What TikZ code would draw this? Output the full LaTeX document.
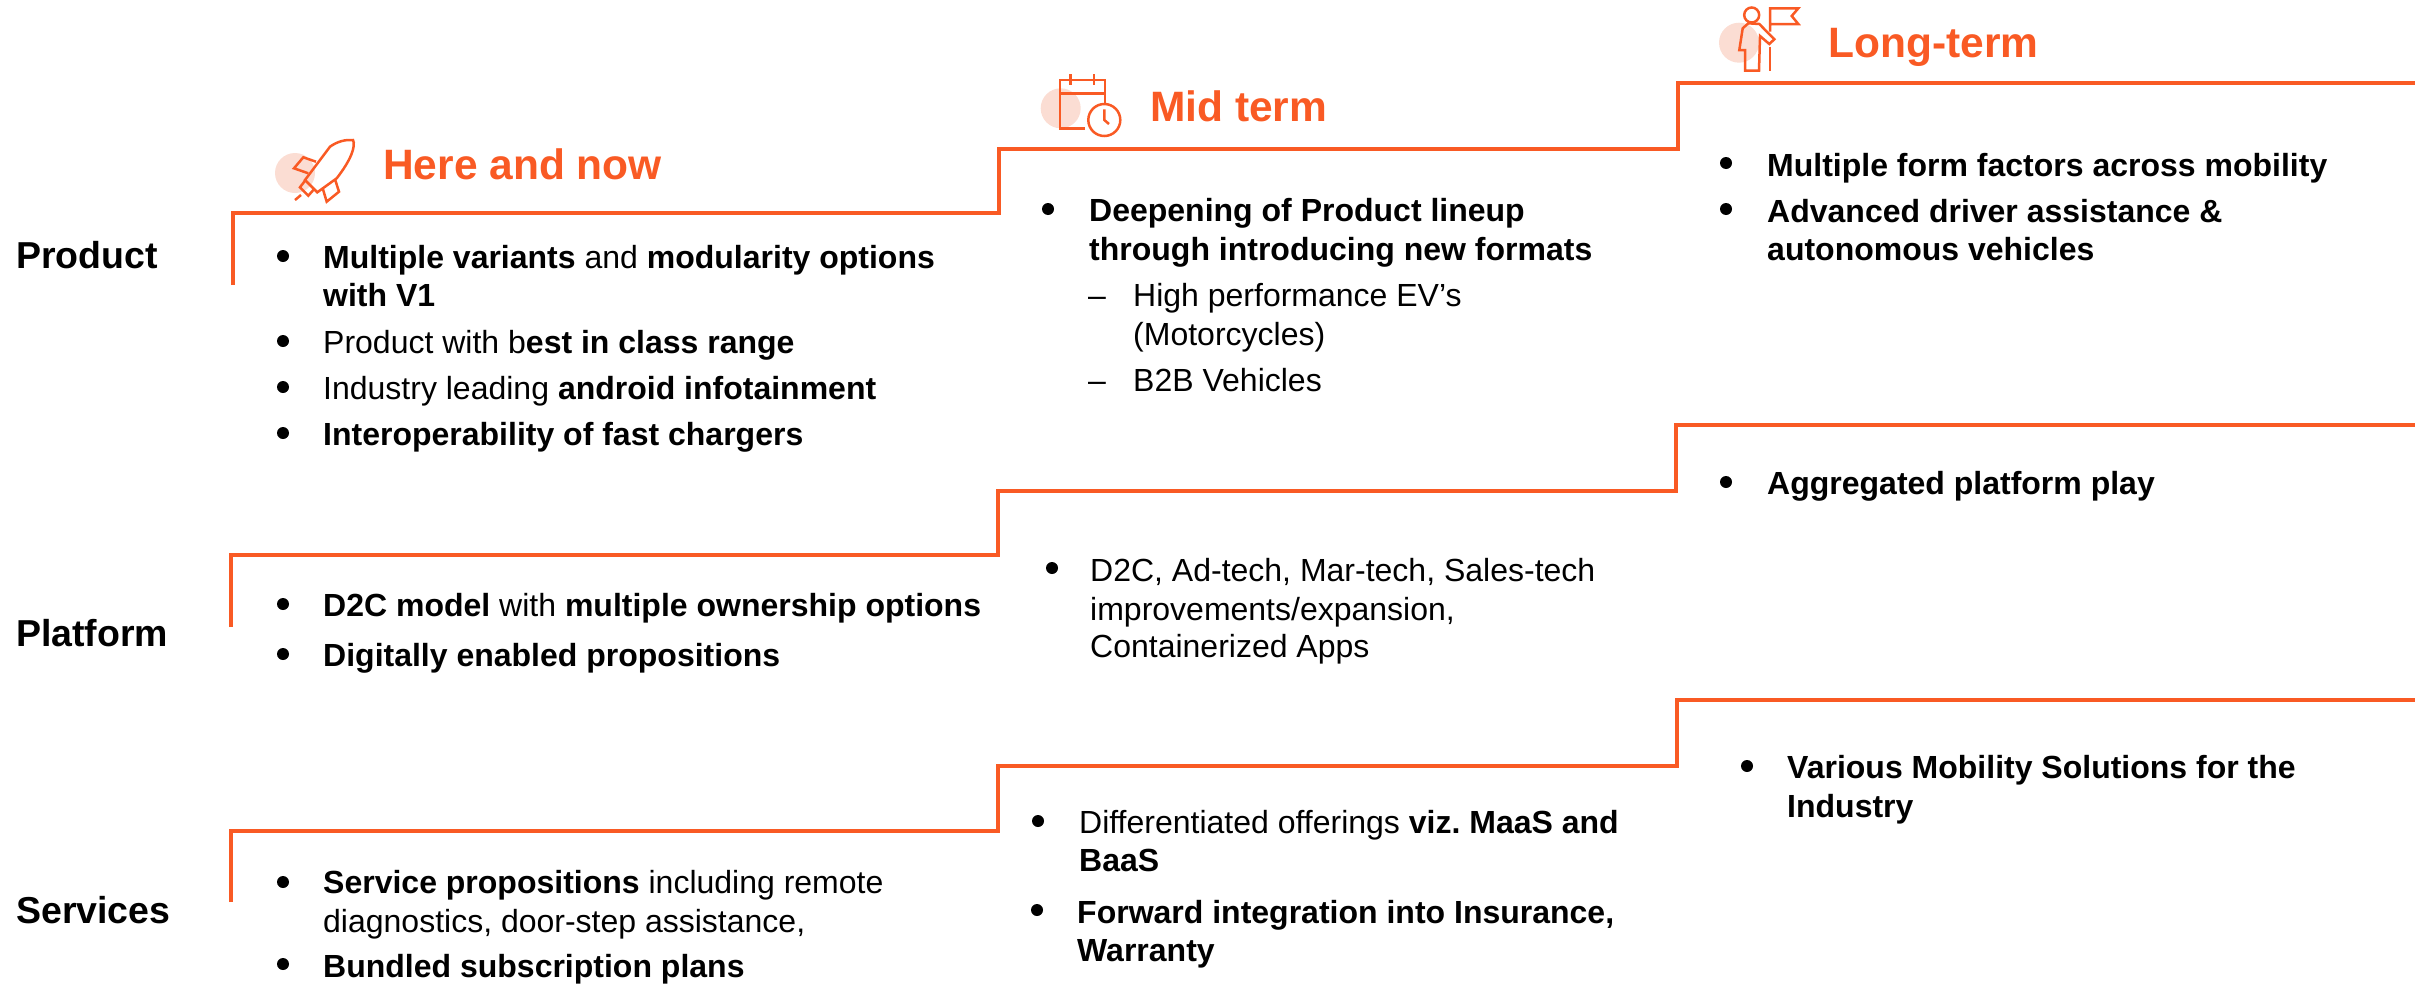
\documentclass[tikz,border=0pt]{standalone}
\usepackage{fontspec}
\setmainfont{Liberation Sans}
\definecolor{accent}{HTML}{F95A24}
\definecolor{blush}{HTML}{FBDDD3}
\frenchspacing

\begin{document}
\begin{tikzpicture}[
    x=1pt, y=-1pt,
    stair/.style={draw=accent, line width=4.5pt, line cap=butt, line join=miter},
    icon/.style={draw=accent, line width=2.5pt, line join=miter},
    halo/.style={circle, fill=blush, minimum size=40pt, inner sep=0pt},
    heading/.style={anchor=base west, inner sep=0pt, text=accent,
        font=\fontsize{42.5}{50}\selectfont\bfseries},
    rowname/.style={anchor=base west, inner sep=0pt,
        font=\fontsize{37.5}{44}\selectfont\bfseries},
    item/.style={anchor=base west, inner sep=0pt,
        font=\fontsize{32}{38}\selectfont},
    dot/.style={circle, fill=black, minimum size=12pt, inner sep=0pt}
]
    \useasboundingbox (0,0) rectangle (2415,983);

    % stair lines
    \draw[stair] (233,285) |- (999,213) |- (1678,149) |- (2415,83);
    \draw[stair] (231,627) |- (998,555) |- (1676,491) |- (2415,425);
    \draw[stair] (231,902) |- (998,831) |- (1677,766) |- (2415,700);

    % rocket
    \node[halo] (haloNow) at (295,173) {};
    \draw[icon] (305,180) -- (330,146.7) .. controls (338,141) and (346,139.5) .. (353,140)
        .. controls (356,146) and (351,160) .. (336.7,178.3) -- (317.3,192.3) -- cycle;
    \draw[icon] (316,161.7) -- (303.3,157.3) -- (294,168.3) -- (308.3,173.3);
    \draw[icon] (335,179.3) -- (339,191.7) -- (326.7,201.7) -- (322.7,188.3);
    \draw[icon] (305,180.7) -- (300,187.3) -- (308.3,195.7) -- (314,189.3);
    \draw[icon] (301,195) -- (295,200);
    \node[heading] (now) at (383,179) {Here and now};

    % calendar
    \node[halo] (haloMid) at (1060.7,108.3) {};
    \draw[icon] (1085,128.3) -- (1060,128.3) -- (1060,80) -- (1105,80) -- (1105,103.3);
    \draw[icon] (1060,93.3) -- (1105,93.3);
    \draw[icon] (1070.7,74) -- (1070.7,85);
    \draw[icon] (1094,74) -- (1094,85);
    \draw[icon] (1104.3,120) circle (16);
    \draw[icon] (1104.3,109.3) -- (1104.3,120) -- (1109,124);
    \node[heading] (mid) at (1150,121) {Mid term};

    % person with flag
    \node[halo] (haloLong) at (1739,42.7) {};
    \draw[icon] (1751.7,15) circle (7.5);
    \draw[icon] (1748.3,23.3) -- (1742.7,28.3) -- (1739.3,50) -- (1745,50) -- (1745,70.7)
        -- (1759,70.7) -- (1760,36) -- (1769.3,44) -- (1774.3,39.3) -- (1759.3,24) -- cycle;
    \draw[icon] (1770,46.7) -- (1770,70.7);
    \draw[icon] (1770,31.7) -- (1770,8.3) -- (1798.3,8.3) -- (1791.7,16) -- (1798.3,24) -- (1770,24);
    \node[heading] (long) at (1828,57) {Long-term};

    % rows
    \node[rowname] (product) at (16,268) {Product};
    \node[rowname] (platform) at (16,646) {Platform};
    \node[rowname] (services) at (16,923) {Services};

    % product, here and now
    \node[dot] (dotA) at (283,256) {};
    \node[item] (prodA) at (323,268) {\textbf{Multiple variants} and \textbf{modularity options}};
    \node[item] (prodB) at (323,306) {\textbf{with V1}};
    \node[dot] (dotB) at (283,341) {};
    \node[item] (prodC) at (323,353) {Product with b\textbf{est in class range}};
    \node[dot] (dotC) at (283,387) {};
    \node[item] (prodD) at (323,399) {Industry leading \textbf{android infotainment}};
    \node[dot] (dotD) at (283,433) {};
    \node[item] (prodE) at (323,445) {\textbf{Interoperability of fast chargers}};

    % product, mid term
    \node[dot] (dotE) at (1048,209) {};
    \node[item] (prodF) at (1089,221) {\textbf{Deepening of Product lineup}};
    \node[item] (prodG) at (1089,260) {\textbf{through introducing new formats}};
    \node[item] (dashA) at (1088,306) {–};
    \node[item] (prodH) at (1133,306) {High performance EV’s};
    \node[item] (prodI) at (1133,345) {(Motorcycles)};
    \node[item] (dashB) at (1088,391) {–};
    \node[item] (prodJ) at (1133,391) {B2B Vehicles};

    % product, long-term
    \node[dot] (dotF) at (1726,163) {};
    \node[item] (prodK) at (1767,176) {\textbf{Multiple form factors across mobility}};
    \node[dot] (dotG) at (1726,209) {};
    \node[item] (prodL) at (1767,222) {\textbf{Advanced driver assistance \&}};
    \node[item] (prodM) at (1767,260) {\textbf{autonomous vehicles}};

    % platform
    \node[dot] (dotH) at (283,604) {};
    \node[item] (platA) at (323,616) {\textbf{D2C model} with \textbf{multiple ownership options}};
    \node[dot] (dotI) at (283,654) {};
    \node[item] (platB) at (323,666) {\textbf{Digitally enabled propositions}};
    \node[dot] (dotJ) at (1052,568) {};
    \node[item] (platC) at (1090,581) {D2C, Ad-tech, Mar-tech, Sales-tech};
    \node[item] (platD) at (1090,620) {improvements/expansion,};
    \node[item] (platE) at (1090,657) {Containerized Apps};
    \node[dot] (dotK) at (1726,482) {};
    \node[item] (platF) at (1767,494) {\textbf{Aggregated platform play}};

    % services
    \node[dot] (dotL) at (283,882) {};
    \node[item] (servA) at (323,893) {\textbf{Service propositions} including remote};
    \node[item] (servB) at (323,932) {diagnostics, door-step assistance,};
    \node[dot] (dotM) at (283,964) {};
    \node[item] (servC) at (323,977) {\textbf{Bundled subscription plans}};
    \node[dot] (dotN) at (1038,821) {};
    \node[item] (servD) at (1079,833) {Differentiated offerings \textbf{viz. MaaS and}};
    \node[item] (servE) at (1079,871) {\textbf{BaaS}};
    \node[dot] (dotO) at (1037,910) {};
    \node[item] (servF) at (1077,923) {\textbf{Forward integration into Insurance,}};
    \node[item] (servG) at (1077,961) {\textbf{Warranty}};
    \node[dot] (dotP) at (1747,766) {};
    \node[item] (servH) at (1787,778) {\textbf{Various Mobility Solutions for the}};
    \node[item] (servI) at (1787,817) {\textbf{Industry}};
\end{tikzpicture}
\end{document}
